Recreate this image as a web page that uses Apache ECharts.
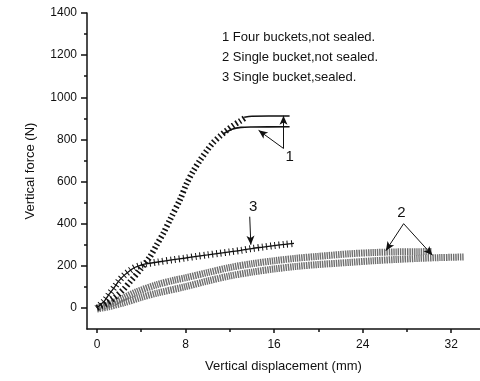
<!DOCTYPE html>
<html>
<head>
<meta charset="utf-8">
<script src="https://cdn.jsdelivr.net/npm/echarts@6/dist/echarts.min.js"></script>
<style>
  html, body { margin: 0; padding: 0; background: #fff; }
  #chart { width: 480px; height: 381px; }
</style>
</head>
<body>
<div id="chart"></div>
<script>
// tick values
const xMajor = [0, 8, 16, 24, 32]
const xMinor = [4, 12, 20, 28]
const yMajor = [0, 200, 400, 600, 800, 1000, 1200, 1400]
const yMinor = [100, 300, 500, 700, 900, 1100, 1300]

// curve 1: four buckets, not sealed (rising part + two plateaus)
const fourRise = [[0, 0], [0.9, 22], [1.5, 45], [2.4, 88], [3.0, 125], [3.9, 181], [4.8, 244], [5.4, 300],
  [6.0, 355], [6.6, 419], [7.5, 514], [8.1, 590], [8.7, 650], [9.3, 700], [9.9, 745], [10.5, 785],
  [11.1, 815], [11.7, 842], [12.3, 866], [12.9, 886], [13.4, 903]]
const fourUpper = [[13.3, 905], [14.0, 910], [15.5, 911], [17.4, 911]]
const fourLower = [[11.4, 826], [12.2, 848], [13.0, 857], [14.0, 859], [17.4, 860]]

// curve 2: single bucket, not sealed (two tests)
const singleA = [[0, 0], [1, 15], [2.4, 48], [3.5, 75], [5.4, 110], [7, 132], [8, 143], [10, 168], [12, 192],
  [14, 210], [16, 224], [18, 236], [20, 245], [22.8, 257], [25, 263], [27, 266], [29, 267], [30.3, 268]]
const singleB = [[0, -5], [1, 5], [2.4, 24], [4, 50], [5.4, 70], [8, 101], [10, 128], [12, 152], [14, 170],
  [16, 185], [18, 197], [20, 206], [22.8, 216], [25, 224], [27, 230], [29, 235], [31, 239], [33.2, 242]]

// curve 3: single bucket, sealed
const sealed = [[0, 0], [0.3, 15], [0.7, 35], [1.1, 65], [1.6, 100], [2.0, 130], [2.5, 157], [3.0, 178],
  [3.4, 192], [4.0, 203], [4.5, 210], [5.5, 218], [6.9, 229], [8, 237], [9, 245], [10, 252], [11, 259],
  [12, 266], [13, 273], [14, 282], [15, 289], [16, 296], [17, 302], [17.8, 306]]

const notes = ['1 Four buckets,not sealed.', '2 Single bucket,not sealed.', '3 Single bucket,sealed.']

// callout labels and arrows, in data units
const labels = [
  { text: '1', at: [17.4, 719] },
  { text: '3', at: [14.1, 481] },
  { text: '2', at: [27.5, 452] }
]
const arrows = [
  [[16.85, 757], [14.6, 843]],
  [[16.85, 757], [16.85, 912]],
  [[13.8, 433], [13.9, 300]],
  [[27.7, 400], [26.1, 272]],
  [[27.7, 400], [30.3, 250]]
]

const FONT = 'Liberation Sans, Arial, sans-serif'
const chart = echarts.init(document.getElementById('chart'))

const plain = v => String(v)
const xBase = { type: 'value', min: -0.9, max: 34.6, position: 'bottom', splitLine: { show: false } }
const yBase = { type: 'value', min: -100, max: 1400, position: 'left', splitLine: { show: false } }

const option = {
  animation: false,
  grid: { left: 87, right: 0, top: 13, bottom: 52 },
  xAxis: [
    {
      ...xBase,
      name: 'Vertical displacement (mm)',
      nameLocation: 'middle',
      nameGap: 31,
      nameTextStyle: { fontSize: 13, color: '#111', fontFamily: FONT },
      axisLine: { onZero: false, lineStyle: { color: '#111', width: 1.5 } },
      axisTick: { customValues: xMajor, length: 4, lineStyle: { color: '#111', width: 1.5 } },
      axisLabel: { customValues: xMajor, formatter: plain, margin: 10, fontSize: 12, color: '#111', fontFamily: FONT }
    },
    {
      ...xBase,
      axisLine: { show: false, onZero: false },
      axisTick: { customValues: xMinor, length: 3, lineStyle: { color: '#111', width: 1.5 } },
      axisLabel: { show: false }
    }
  ],
  yAxis: [
    {
      ...yBase,
      name: 'Vertical force (N)',
      nameLocation: 'middle',
      nameGap: 50,
      nameTextStyle: { fontSize: 13, color: '#111', fontFamily: FONT },
      axisLine: { show: true, onZero: false, lineStyle: { color: '#111', width: 1.5 } },
      axisTick: { show: true, customValues: yMajor, length: 6, lineStyle: { color: '#111', width: 1.5 } },
      axisLabel: { customValues: yMajor, formatter: plain, margin: 10, fontSize: 12, color: '#111', fontFamily: FONT }
    },
    {
      ...yBase,
      axisLine: { show: false, onZero: false },
      axisTick: { show: true, customValues: yMinor, length: 3, lineStyle: { color: '#111', width: 1.5 } },
      axisLabel: { show: false }
    }
  ],
  series: [
    {
      type: 'line', data: singleA, smooth: 0.3, showSymbol: false, z: 1,
      lineStyle: { color: '#6e6e6e', width: 7, type: [1.4, 0.9], cap: 'butt' }
    },
    {
      type: 'line', data: singleB, smooth: 0.3, showSymbol: false, z: 1,
      lineStyle: { color: '#6e6e6e', width: 7, type: [1.4, 0.9], cap: 'butt' }
    },
    {
      type: 'line', data: fourRise, smooth: 0.3, showSymbol: false, z: 2,
      lineStyle: { color: '#111', width: 6, type: [1.6, 2.6], cap: 'butt' }
    },
    {
      type: 'line', data: fourUpper, smooth: 0.3, showSymbol: false, z: 2,
      lineStyle: { color: '#111', width: 1.6 }
    },
    {
      type: 'line', data: fourLower, smooth: 0.3, showSymbol: false, z: 2,
      lineStyle: { color: '#111', width: 1.6 }
    },
    {
      type: 'line', data: sealed, smooth: 0.3, showSymbol: false, z: 3,
      lineStyle: { color: '#111', width: 1.3 }
    },
    {
      // cross ticks along curve 3
      type: 'line', data: sealed, smooth: 0.3, showSymbol: false, z: 3,
      lineStyle: { color: '#111', width: 7, type: [1, 3.2], cap: 'butt' },
      markLine: {
        silent: true,
        symbol: ['none', 'arrow'],
        symbolSize: [6, 9],
        label: { show: false },
        lineStyle: { color: '#111', width: 1, type: 'solid' },
        data: arrows.map(([a, b]) => [{ coord: a }, { coord: b }])
      }
    }
  ]
}

chart.setOption(option)

const graphic = [{
  type: 'text',
  left: 222,
  top: 27,
  style: { text: notes.join('\n'), font: '13px ' + FONT, lineHeight: 20, fill: '#111' }
}]
labels.forEach(l => {
  const [px, py] = chart.convertToPixel({ gridIndex: 0 }, l.at)
  graphic.push({
    type: 'text', x: px, y: py,
    style: { text: l.text, font: '15px ' + FONT, fill: '#111', align: 'center', verticalAlign: 'middle' }
  })
})
chart.setOption({ graphic })
</script>
</body>
</html>
